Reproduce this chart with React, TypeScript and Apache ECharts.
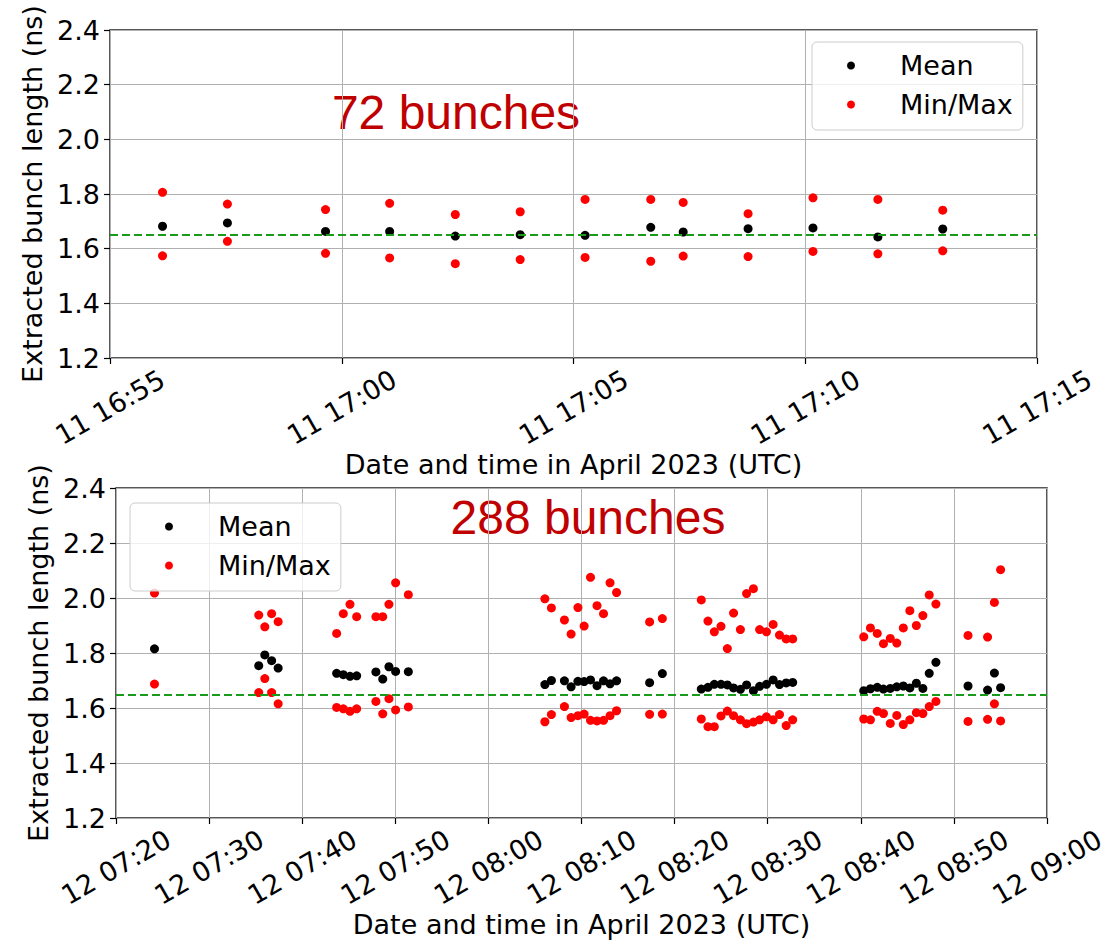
import React, { useEffect, useRef } from "react";
import * as echarts from "echarts";

// 72-bunch beam, 11 April 2023
const topTimes = [
  "16:56:08", "16:57:32", "16:59:39", "17:01:02", "17:02:27", "17:03:51", "17:05:15",
  "17:06:40", "17:07:22", "17:08:46", "17:10:10", "17:11:34", "17:12:58",
];
const topMean = [1.682, 1.694, 1.663, 1.663, 1.646, 1.651, 1.649, 1.678, 1.661, 1.673, 1.676, 1.643, 1.672];
const topMax = [1.806, 1.763, 1.743, 1.766, 1.725, 1.735, 1.78, 1.78, 1.769, 1.728, 1.786, 1.78, 1.741];
const topMin = [1.574, 1.627, 1.583, 1.566, 1.545, 1.56, 1.568, 1.554, 1.573, 1.571, 1.59, 1.581, 1.592];

// 288-bunch beam, 12 April 2023
const bottomTimes = [
  "07:24:08",
  "07:35:20", "07:35:59", "07:36:43", "07:37:25",
  "07:43:42", "07:44:25", "07:45:08", "07:45:51", "07:47:55", "07:48:39", "07:49:19", "07:50:02", "07:51:24",
  "08:06:04", "08:06:46", "08:08:10", "08:08:53", "08:09:37", "08:10:17", "08:10:58", "08:11:40", "08:12:22", "08:13:04", "08:13:46",
  "08:17:19", "08:18:41",
  "08:22:52", "08:23:35", "08:24:16", "08:24:59", "08:25:40", "08:26:20", "08:27:04", "08:27:44", "08:28:28", "08:29:08", "08:29:52", "08:30:35", "08:31:16", "08:31:59", "08:32:41",
  "08:40:19", "08:41:02", "08:41:46", "08:42:26", "08:43:10", "08:43:52", "08:44:34", "08:45:16", "08:45:58", "08:46:40", "08:47:21", "08:48:04",
  "08:51:31", "08:53:37", "08:54:21", "08:55:01",
];
const bottomMean = [
  1.815,
  1.754, 1.793, 1.772, 1.745,
  1.726, 1.721, 1.715, 1.717, 1.731, 1.705, 1.75, 1.733, 1.732,
  1.685, 1.7, 1.699, 1.677, 1.697, 1.696, 1.702, 1.681, 1.699, 1.688, 1.699,
  1.692, 1.725,
  1.669, 1.675, 1.686, 1.686, 1.684, 1.673, 1.668, 1.684, 1.663, 1.679, 1.686, 1.702, 1.685, 1.691, 1.693,
  1.663, 1.67, 1.675, 1.669, 1.671, 1.677, 1.68, 1.673, 1.69, 1.671, 1.726, 1.766,
  1.68, 1.665, 1.727, 1.674,
];
const bottomMax = [
  2.018,
  1.938, 1.895, 1.943, 1.914,
  1.871, 1.943, 1.977, 1.932, 1.932, 1.932, 1.977, 2.055, 2.012,
  1.997, 1.964, 1.92, 1.869, 1.965, 1.898, 2.075, 1.972, 1.943, 2.055, 2.02,
  1.913, 1.925,
  1.993, 1.916, 1.877, 1.897, 1.816, 1.945, 1.885, 2.016, 2.034, 1.885, 1.877, 1.904, 1.865, 1.851, 1.851,
  1.859, 1.891, 1.871, 1.834, 1.853, 1.836, 1.891, 1.954, 1.9, 1.936, 2.011, 1.978,
  1.864, 1.858, 1.984, 2.103,
];
const bottomMin = [
  1.687,
  1.656, 1.707, 1.656, 1.615,
  1.602, 1.597, 1.588, 1.597, 1.624, 1.579, 1.634, 1.593, 1.604,
  1.55, 1.576, 1.605, 1.565, 1.572, 1.578, 1.555, 1.553, 1.555, 1.572, 1.59,
  1.577, 1.578,
  1.56, 1.532, 1.532, 1.571, 1.589, 1.572, 1.557, 1.543, 1.549, 1.557, 1.568, 1.557, 1.576, 1.536, 1.557,
  1.56, 1.557, 1.588, 1.58, 1.544, 1.573, 1.54, 1.557, 1.583, 1.58, 1.605, 1.624,
  1.551, 1.559, 1.615, 1.553,
];

// Axis ranges (clock times) and tick steps in minutes
const topRange = { day: 11, start: "16:55", end: "17:15", step: 5 };
const bottomRange = { day: 12, start: "07:20", end: "09:00", step: 10 };
const yMin = 1.2;
const yMax = 2.4;
const yStep = 0.2;
const nominalLength = 1.65;

const seriesLabels = ["Mean", "Min/Max"];
const panelNotes = ["72 bunches", "288 bunches"];
const xAxisTitle = "Date and time in April 2023 (UTC)";
const yAxisTitle = "Extracted bunch length (ns)";

const FONT = "DejaVu Sans";
const FS = 27;

function toMinutes(t: string): number {
  const [h, m, s] = t.split(":").map(Number);
  return h * 60 + m + (s || 0) / 60;
}

function pad(n: number): string {
  return n < 10 ? "0" + n : String(n);
}

function timeLabel(day: number) {
  return (v: number) => {
    const total = Math.round(v);
    const h = Math.floor(total / 60);
    const m = total - h * 60;
    return `${day} ${pad(h)}:${pad(m)}`;
  };
}

function pairs(times: string[], values: number[]) {
  return times.map((t, i) => [toMinutes(t), values[i]]);
}

function xAxisFor(range: typeof topRange, gridIndex: number) {
  return {
    type: "value",
    gridIndex,
    min: toMinutes(range.start),
    max: toMinutes(range.end),
    interval: range.step,
    name: xAxisTitle,
    nameLocation: "middle",
    nameGap: 93,
    nameTextStyle: { fontFamily: FONT, fontSize: FS, color: "#000" },
    axisLine: { show: false },
    axisTick: { show: true, length: 6, lineStyle: { color: "#000", width: 1.2 } },
    axisLabel: {
      // rotated labels centred under their tick
      rotate: 30,
      margin: 49,
      align: "center",
      verticalAlign: "middle",
      fontFamily: FONT,
      fontSize: FS,
      color: "#000",
      showMinLabel: true,
      showMaxLabel: true,
      formatter: timeLabel(range.day),
    },
    splitLine: { show: true, lineStyle: { color: "#b0b0b0", width: 1 } },
  };
}

function yAxisFor(gridIndex: number, nameGap: number) {
  return {
    type: "value",
    gridIndex,
    min: yMin,
    max: yMax,
    interval: yStep,
    name: yAxisTitle,
    nameLocation: "middle",
    nameGap,
    nameTextStyle: { fontFamily: FONT, fontSize: FS, color: "#000" },
    axisLine: { show: false },
    axisTick: { show: true, length: 6, lineStyle: { color: "#000", width: 1.2 } },
    axisLabel: {
      margin: 10,
      fontFamily: FONT,
      fontSize: FS,
      color: "#000",
      formatter: (v: number) => v.toFixed(1),
    },
    splitLine: { show: true, lineStyle: { color: "#b0b0b0", width: 1 } },
  };
}

function panelSeries(
  index: number,
  times: string[],
  mean: number[],
  max: number[],
  min: number[]
) {
  return [
    {
      type: "scatter",
      name: seriesLabels[0],
      xAxisIndex: index,
      yAxisIndex: index,
      symbolSize: 9,
      itemStyle: { color: "#000000", opacity: 1 },
      data: pairs(times, mean),
      z: 3,
      markLine: {
        silent: true,
        symbol: ["none", "none"],
        label: { show: false },
        lineStyle: { color: "#1a9a1a", width: 2, type: [8, 4], opacity: 1 },
        data: [{ yAxis: nominalLength }],
        z: 4,
      },
    },
    {
      type: "scatter",
      name: seriesLabels[1],
      xAxisIndex: index,
      yAxisIndex: index,
      symbolSize: 9,
      itemStyle: { color: "#ff0000", opacity: 1 },
      data: pairs(times, max).concat(pairs(times, min)),
      z: 3,
    },
  ];
}

function legendAt(left: number, top: number) {
  return {
    data: seriesLabels,
    left,
    top,
    orient: "vertical",
    icon: "circle",
    itemWidth: 8,
    itemHeight: 8,
    itemGap: 10,
    padding: [9, 10, 11, 35],
    backgroundColor: "rgba(255,255,255,0.8)",
    borderColor: "#cccccc",
    borderWidth: 1,
    borderRadius: 5,
    selectedMode: false,
    textStyle: {
      fontFamily: FONT,
      fontSize: FS,
      color: "#000",
      lineHeight: 29,
      padding: [0, 0, 0, 40],
    },
  };
}

export default function App() {
  const ref = useRef<HTMLDivElement>(null);

  useEffect(() => {
    if (!ref.current) return;
    const chart = echarts.init(ref.current, null, { renderer: "svg" });
    chart.setOption({
      animation: false,
      backgroundColor: "#ffffff",
      grid: [
        { left: 110, top: 30, width: 927, height: 328, show: true, borderColor: "#222", borderWidth: 1.5, backgroundColor: "transparent" },
        { left: 116, top: 488, width: 931, height: 330, show: true, borderColor: "#222", borderWidth: 1.5, backgroundColor: "transparent" },
      ],
      xAxis: [xAxisFor(topRange, 0), xAxisFor(bottomRange, 1)],
      yAxis: [yAxisFor(0, 62), yAxisFor(1, 61)],
      legend: [legendAt(812, 42), legendAt(130, 503)],
      series: [
        ...panelSeries(0, topTimes, topMean, topMax, topMin),
        ...panelSeries(1, bottomTimes, bottomMean, bottomMax, bottomMin),
      ],
      graphic: [
        {
          type: "text",
          x: 456,
          y: 112,
          style: {
            text: panelNotes[0],
            font: "48px 'Liberation Sans'",
            fill: "#c00000",
            textAlign: "center",
            textVerticalAlign: "middle",
          },
        },
        {
          type: "text",
          x: 588,
          y: 517,
          style: {
            text: panelNotes[1],
            font: "48px 'Liberation Sans'",
            fill: "#c00000",
            textAlign: "center",
            textVerticalAlign: "middle",
          },
        },
      ],
    });
    return () => chart.dispose();
  }, []);

  return (
    <div
      ref={ref}
      style={{ position: "fixed", left: 0, top: 0, width: 1117, height: 945, background: "#fff" }}
    />
  );
}
